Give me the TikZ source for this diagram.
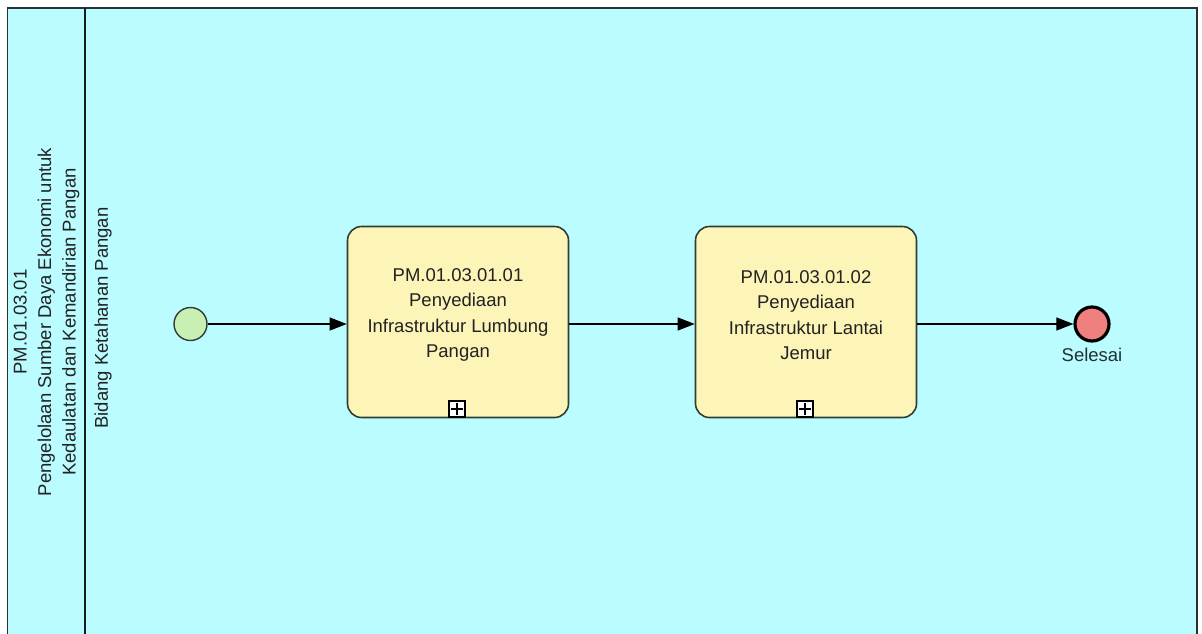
\documentclass[tikz,border=0pt]{standalone}
\usepackage{fontspec}
\setmainfont{Liberation Sans}
\usetikzlibrary{arrows.meta}
\definecolor{poolbg}{RGB}{186,252,255}
\definecolor{taskfill}{RGB}{253,244,184}
\definecolor{taskline}{RGB}{50,60,50}
\definecolor{startfill}{RGB}{200,240,180}
\definecolor{endfill}{RGB}{240,128,128}
\definecolor{txt}{RGB}{34,34,34}
\tikzset{
  taskbox/.style={draw=taskline, line width=1.6pt, fill=taskfill, rounded corners=14pt,
    minimum width=221pt, minimum height=191pt, inner sep=0pt},
  tasktext/.style={align=center, font=\fontsize{18.5}{25.3}\selectfont, text=txt},
  startev/.style={circle, draw=taskline, line width=1.4pt, fill=startfill, minimum size=33pt, inner sep=0pt},
  endev/.style={circle, draw=black, line width=3.2pt, fill=endfill, minimum size=34pt, inner sep=0pt},
  flow/.style={draw=black, line width=1.1pt, -{Triangle[length=17pt,width=13pt]}},
  lanetext/.style={rotate=90, align=center, font=\fontsize{18.5}{24.5}\selectfont, text=txt},
  marker/.style={draw=black, line width=1.2pt, fill=white, minimum size=16pt, inner sep=0pt},
}
\begin{document}
\begin{tikzpicture}[x=1pt,y=-1pt]
\useasboundingbox (0,0) rectangle (1202,633);
\clip (0,0) rectangle (1202,633);
\fill[white] (0,0) rectangle (1202,633);
\fill[poolbg] (7.5,8) rectangle (1197,660);
\draw[line width=1.8pt, draw={rgb,255:red,40;green,48;blue,48}] (7.5,660) -- (7.5,8) -- (1197,8) -- (1197,660);
\draw[line width=1.8pt, draw={rgb,255:red,20;green,30;blue,30}] (85,8) -- (85,660);
% labels
\node[lanetext] (pool) at (46.5,322) {PM.01.03.01\\Pengelolaan Sumber Daya Ekonomi untuk\\Kedaulatan dan Kemandirian Pangan};
\node[lanetext] (lane) at (103,318) {Bidang Ketahanan Pangan};
% events and tasks
\node[startev] (start) at (190.5,324) {};
\node[taskbox] (t1) at (458,322) {};
\node[tasktext] (t1text) at (458,315) {PM.01.03.01.01\\Penyediaan\\Infrastruktur Lumbung\\Pangan};
\node[marker] (m1) at (457,409) {};
\draw[line width=1.2pt] ([yshift=-6pt]m1.center) -- ([yshift=6pt]m1.center) ([xshift=-6pt]m1.center) -- ([xshift=6pt]m1.center);
\node[taskbox] (t2) at (806,322) {};
\node[tasktext] (t2text) at (806,315) {PM.01.03.01.02\\Penyediaan\\Infrastruktur Lantai\\Jemur};
\node[marker] (m2) at (805,409) {};
\draw[line width=1.2pt] ([yshift=-6pt]m2.center) -- ([yshift=6pt]m2.center) ([xshift=-6pt]m2.center) -- ([xshift=6pt]m2.center);
\node[endev] (end) at (1092,324) {};
\node[font=\fontsize{18.5}{22}\selectfont, text={rgb,255:red,30;green,50;blue,50}, anchor=north] (endlabel) at (1092,345) {Selesai};
% flows
\draw[flow] (start.east) -- (start.east -| t1.west);
\draw[flow] (t1.east |- start.east) -- (t2.west |- start.east);
\draw[flow] (t2.east |- end.west) -- (end.west);
\end{tikzpicture}
\end{document}
